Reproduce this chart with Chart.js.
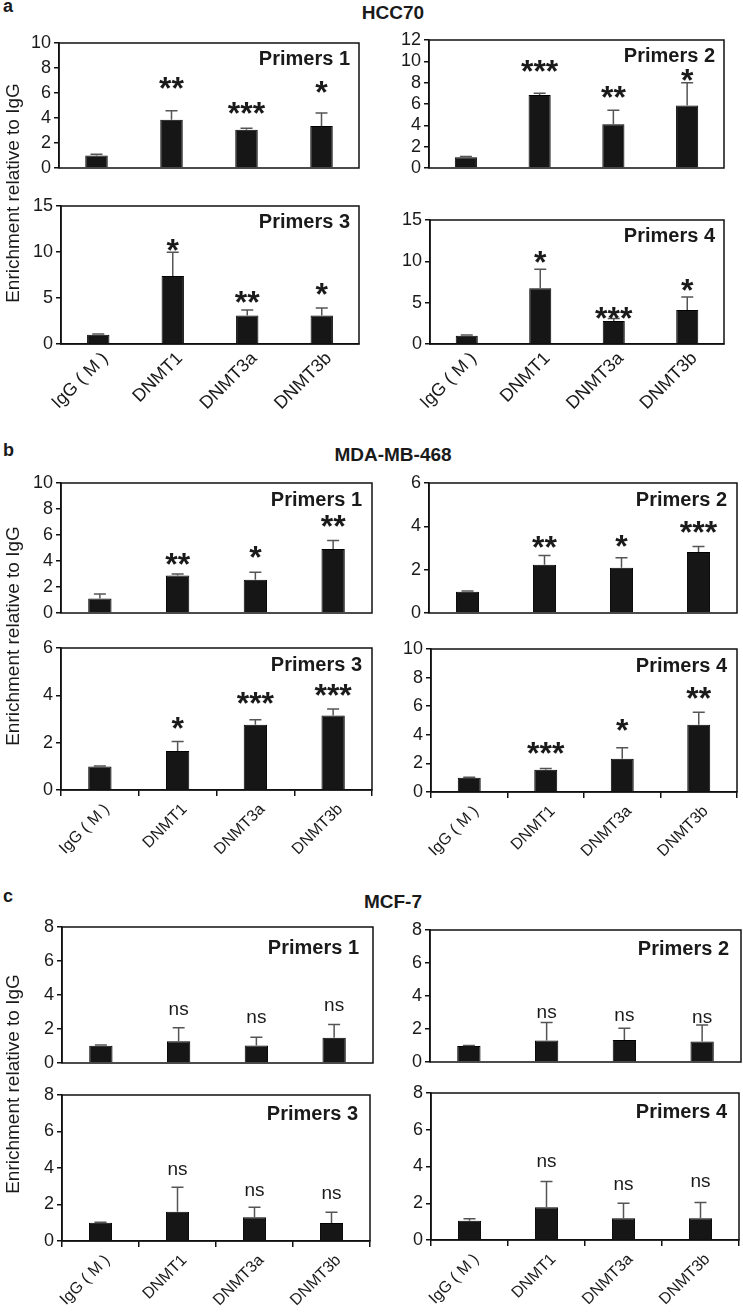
<!DOCTYPE html>
<html>
<head>
<meta charset="utf-8">
<script src="https://cdn.jsdelivr.net/npm/chart.js@4.4.1/dist/chart.umd.min.js"></script>
<style>
  body { margin: 0; background: #fff; width: 743px; height: 1312px; position: relative; overflow: hidden;
         font-family: "Liberation Sans", Arial, sans-serif; color: #1a1a1a; }
  canvas { position: absolute; }
  .t { position: absolute; white-space: nowrap; font-weight: bold; line-height: 1; }
  .mid { transform: translateX(-50%); }
  .ytitle { position: absolute; white-space: nowrap; font-size: 19px; line-height: 1;
            transform: translate(-50%, -50%) rotate(-90deg); }
</style>
</head>
<body>
<div class="t" style="left:3px;top:-3px;font-size:18px">a</div>
<div class="t mid" style="left:393px;top:3px;font-size:19px">HCC70</div>
<div class="t" style="left:3px;top:441px;font-size:18px">b</div>
<div class="t mid" style="left:393px;top:445px;font-size:19px">MDA-MB-468</div>
<div class="t" style="left:3px;top:887px;font-size:18px">c</div>
<div class="t mid" style="left:393px;top:892px;font-size:19px">MCF-7</div>
<div class="ytitle" style="left:12px;top:193px">Enrichment relative to IgG</div>
<div class="ytitle" style="left:12px;top:636px">Enrichment relative to IgG</div>
<div class="ytitle" style="left:12px;top:1084px">Enrichment relative to IgG</div>

<script>
const categories = ['IgG ( M )', 'DNMT1', 'DNMT3a', 'DNMT3b'];

// a: HCC70
const hccP1 = [1.0, 3.86, 3.06, 3.37];
const hccP1Err = [0.1, 0.72, 0.12, 1.04];
const hccP1Sig = ['', '**', '***', '*'];
const hccP2 = [1.0, 6.84, 4.1, 5.85];
const hccP2Err = [0.08, 0.16, 1.32, 2.15];
const hccP2Sig = ['', '***', '**', '*'];
const hccP3 = [1.0, 7.4, 3.1, 3.1];
const hccP3Err = [0.08, 2.56, 0.6, 0.8];
const hccP3Sig = ['', '*', '**', '*'];
const hccP4 = [1.0, 6.73, 2.78, 4.11];
const hccP4Err = [0.08, 2.3, 0.3, 1.58];
const hccP4Sig = ['', '*', '***', '*'];

// b: MDA-MB-468
const mdaP1 = [1.12, 2.88, 2.56, 4.93];
const mdaP1Err = [0.35, 0.12, 0.58, 0.65];
const mdaP1Sig = ['', '**', '*', '**'];
const mdaP2 = [0.98, 2.23, 2.09, 2.82];
const mdaP2Err = [0.03, 0.42, 0.46, 0.25];
const mdaP2Sig = ['', '**', '*', '***'];
const mdaP3 = [0.99, 1.65, 2.76, 3.15];
const mdaP3Err = [0.02, 0.4, 0.21, 0.27];
const mdaP3Sig = ['', '*', '***', '***'];
const mdaP4 = [1.0, 1.55, 2.33, 4.71];
const mdaP4Err = [0.03, 0.1, 0.77, 0.86];
const mdaP4Sig = ['', '***', '*', '**'];

// c: MCF-7
const mcfP1 = [1.01, 1.28, 1.03, 1.48];
const mcfP1Err = [0.05, 0.8, 0.48, 0.78];
const mcfP2 = [0.97, 1.3, 1.33, 1.24];
const mcfP2Err = [0.03, 1.09, 0.72, 1.0];
const mcfP3 = [1.0, 1.6, 1.3, 0.98];
const mcfP3Err = [0.03, 1.34, 0.55, 0.59];
const mcfP4 = [1.05, 1.78, 1.18, 1.18];
const mcfP4Err = [0.1, 1.4, 0.82, 0.86];
const mcfSig = ['', 'ns', 'ns', 'ns'];

const FONT = '"Liberation Sans", Arial, sans-serif';
const INK = '#1a1a1a';

// box = plot area [left, top, right, bottom] in page px; lift = px from error cap up to the mark's centre
const panels = [
  { name: 'Primers 1', vals: hccP1, errs: hccP1Err, sig: hccP1Sig, max: 10, step: 2, box: [59, 43, 359, 182], inset: 9, lift: [0, 30, 22, 28] },
  { name: 'Primers 2', vals: hccP2, errs: hccP2Err, sig: hccP2Sig, max: 12, step: 2, box: [429, 40, 724, 182], inset: 9, lift: [0, 29, 20, 10] },
  { name: 'Primers 3', vals: hccP3, errs: hccP3Err, sig: hccP3Sig, max: 15, step: 5, box: [61, 206, 359, 344], inset: 9, lift: [0, 9, 15, 21], labels: 18 },
  { name: 'Primers 4', vals: hccP4, errs: hccP4Err, sig: hccP4Sig, max: 15, step: 5, box: [430, 220, 724, 344], inset: 9, lift: [0, 14, 8, 14], labels: 18 },
  { name: 'Primers 1', vals: mdaP1, errs: mdaP1Err, sig: mdaP1Sig, max: 10, step: 2, box: [61, 483, 372, 627], inset: 10, lift: [0, 17, 22, 21] },
  { name: 'Primers 2', vals: mdaP2, errs: mdaP2Err, sig: mdaP2Sig, max: 6, step: 2, box: [429, 483, 737, 627], inset: 10, lift: [0, 16, 19, 21] },
  { name: 'Primers 3', vals: mdaP3, errs: mdaP3Err, sig: mdaP3Sig, max: 6, step: 2, box: [61, 648, 372, 790], inset: 10, lift: [0, 20, 24, 21], labels: 16, marks: true },
  { name: 'Primers 4', vals: mdaP4, errs: mdaP4Err, sig: mdaP4Sig, max: 10, step: 2, box: [431, 649, 737, 792], inset: 10, lift: [0, 22, 25, 21], labels: 16, marks: true },
  { name: 'Primers 1', vals: mcfP1, errs: mcfP1Err, sig: mcfSig, max: 8, step: 2, box: [62, 927, 373, 1077], inset: 14, lift: [0, 18, 19, 19] },
  { name: 'Primers 2', vals: mcfP2, errs: mcfP2Err, sig: mcfSig, max: 8, step: 2, box: [430, 930, 741, 1076], inset: 12, lift: [0, 10, 12, 7] },
  { name: 'Primers 3', vals: mcfP3, errs: mcfP3Err, sig: mcfSig, max: 8, step: 2, box: [62, 1095, 370, 1241], inset: 12, lift: [0, 17, 16, 18], labels: 16, marks: true },
  { name: 'Primers 4', vals: mcfP4, errs: mcfP4Err, sig: mcfSig, max: 8, step: 2, box: [431, 1093, 739, 1240], inset: 12, lift: [0, 20, 18, 21], labels: 16, marks: true }
];

function decorFor(p) {
  return {
    id: 'decor',
    afterDraw(chart) {
      const ctx = chart.ctx, a = chart.chartArea, y = chart.scales.y;
      const meta = chart.getDatasetMeta(0);
      ctx.save();
      ctx.strokeStyle = '#111';
      ctx.lineWidth = 1.5;
      ctx.strokeRect(a.left, a.top, a.right - a.left, a.bottom - a.top);

      meta.data.forEach((bar, i) => {
        const yTop = y.getPixelForValue(p.vals[i] + p.errs[i]);
        ctx.strokeStyle = '#555';
        ctx.lineWidth = 1.5;
        ctx.beginPath();
        ctx.moveTo(bar.x, bar.y);
        ctx.lineTo(bar.x, yTop);
        ctx.moveTo(bar.x - 6, yTop);
        ctx.lineTo(bar.x + 6, yTop);
        ctx.stroke();

        const s = p.sig[i];
        if (!s) return;
        const c = yTop - p.lift[i];
        ctx.fillStyle = INK;
        ctx.textAlign = 'center';
        ctx.textBaseline = 'alphabetic';
        if (s === 'ns') {
          ctx.font = '19px ' + FONT;
          ctx.fillText(s, bar.x, c + 5);
        } else {
          ctx.font = 'bold 32px ' + FONT;
          ctx.fillText(s, bar.x, c + 18);
        }
      });

      ctx.fillStyle = INK;
      ctx.font = 'bold 20px ' + FONT;
      ctx.textAlign = 'right';
      ctx.textBaseline = 'top';
      ctx.fillText(p.name, a.right - p.inset, a.top + p.inset - 3);
      ctx.restore();
    }
  };
}

function makePanel(p) {
  const [l, t, r, b] = p.box;
  const yw = 55, padTop = 14, padRight = 4;
  const xh = p.labels ? 80 : 14;
  const w = (r - l) + yw + padRight;
  const h = (b - t) + padTop + xh;
  const cv = document.createElement('canvas');
  cv.width = w;
  cv.height = h;
  cv.style.left = (l - yw) + 'px';
  cv.style.top = (t - padTop) + 'px';
  cv.style.width = w + 'px';
  cv.style.height = h + 'px';
  document.body.insertBefore(cv, document.body.firstChild);

  new Chart(cv, {
    type: 'bar',
    data: {
      labels: categories,
      datasets: [{
        data: p.vals,
        backgroundColor: '#161616',
        borderColor: '#000',
        borderWidth: 1,
        barPercentage: 0.3,
        categoryPercentage: 1
      }]
    },
    options: {
      responsive: false,
      animation: false,
      devicePixelRatio: 1,
      layout: { padding: { top: padTop, right: padRight, left: 0, bottom: p.labels ? 0 : xh } },
      plugins: { legend: { display: false }, tooltip: { enabled: false } },
      scales: {
        x: {
          display: !!p.labels,
          grid: { display: !!p.marks, drawOnChartArea: false, drawTicks: !!p.marks, tickLength: 6, color: '#111', lineWidth: 1.5 },
          border: { display: true, color: '#111', width: 1.5 },
          ticks: {
            autoSkip: false, minRotation: 45, maxRotation: 45, labelOffset: 7, padding: 4,
            color: INK, font: { family: FONT, size: p.labels || 16 }
          },
          afterFit: s => { s.height = xh; }
        },
        y: {
          min: 0,
          max: p.max,
          ticks: { stepSize: p.step, autoSkip: false, padding: 3, color: INK, font: { family: FONT, size: 18 } },
          grid: { drawOnChartArea: false, tickLength: 5, color: '#111', lineWidth: 1.5 },
          border: { color: '#111', width: 1.5 },
          afterFit: s => { s.width = yw; }
        }
      }
    },
    plugins: [decorFor(p)]
  });
}

panels.forEach(makePanel);
</script>
</body>
</html>
